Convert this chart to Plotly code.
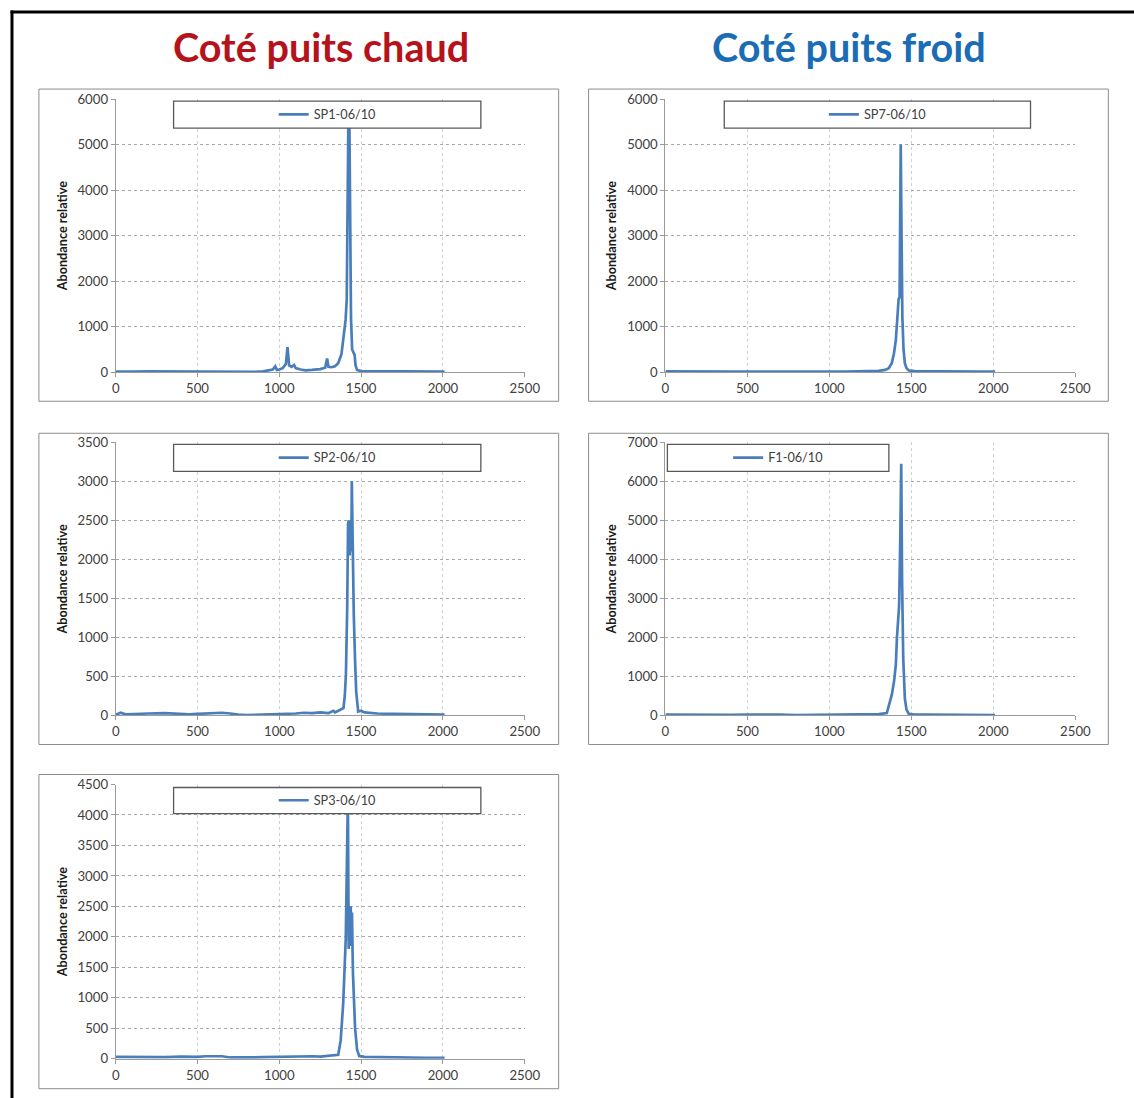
import plotly.graph_objects as go

# ---------------- data ----------------
sp1_x = [0, 50, 100, 200, 300, 400, 500, 600, 700, 760, 800, 850, 900, 940, 960, 975, 985, 1000,
         1020, 1040, 1050, 1060, 1075, 1090, 1100, 1130, 1160, 1200, 1250, 1280, 1292, 1300, 1320,
         1340, 1360, 1380, 1395, 1405, 1412, 1418, 1422, 1428, 1432, 1438, 1445, 1452, 1460, 1466,
         1475, 1500, 1600, 1700, 1800, 1900, 2000, 2010]
sp1_y = [15, 20, 15, 18, 15, 20, 15, 18, 15, 12, 5, 10, 20, 40, 60, 130, 50, 60,
         90, 180, 550, 150, 120, 160, 90, 60, 40, 50, 70, 100, 300, 120, 110,
         130, 200, 400, 800, 1150, 1600, 3500, 5600, 5600, 3000, 1200, 500, 420, 380, 150,
         50, 25, 20, 20, 18, 15, 15, 15]

sp7_x = [0, 100, 200, 300, 400, 500, 600, 700, 760, 800, 900, 1000, 1100, 1200, 1300, 1340, 1362,
         1380, 1393, 1405, 1415, 1422, 1428, 1432, 1435, 1440, 1445, 1452, 1460, 1470, 1484, 1520,
         1600, 1700, 1800, 1900, 2000, 2010]
sp7_y = [20, 15, 18, 15, 12, 15, 12, 15, 10, 5, 10, 12, 15, 20, 30, 50, 90,
         200, 400, 700, 1200, 1600, 1650, 3500, 5000, 3000, 1200, 500, 200, 90, 40, 25,
         20, 18, 15, 15, 15, 12]

sp2_x = [0, 30, 60, 100, 200, 300, 400, 450, 500, 550, 600, 650, 700, 750, 800, 900, 1000, 1100,
         1150, 1200, 1250, 1300, 1330, 1340, 1370, 1392, 1400, 1407, 1415, 1420, 1425, 1430, 1435,
         1440, 1443, 1448, 1455, 1463, 1470, 1482, 1500, 1520, 1600, 1700, 1800, 1900, 2000, 2010]
sp2_y = [10, 35, 15, 20, 25, 30, 20, 15, 20, 25, 30, 35, 25, 10, 5, 10, 15, 25,
         35, 30, 40, 30, 60, 40, 70, 95, 250, 525, 1400, 2450, 2500, 2050, 2500,
         2100, 3000, 2200, 1300, 700, 300, 50, 60, 40, 25, 20, 15, 15, 12, 10]

f1_x = [0, 100, 200, 300, 400, 500, 600, 700, 800, 900, 1000, 1100, 1200, 1300, 1350, 1381, 1395,
        1405, 1412, 1418, 1425, 1432, 1438, 1443, 1450, 1460, 1470, 1484, 1520, 1600, 1700, 1800,
        1900, 2000, 2010]
f1_y = [20, 15, 20, 15, 15, 20, 25, 20, 10, 15, 15, 20, 25, 35, 60, 540, 900,
        1300, 2000, 2400, 2800, 4500, 6450, 3500, 1500, 440, 150, 40, 25, 20, 18, 15,
        15, 15, 12]

sp3_x = [0, 100, 200, 300, 400, 500, 550, 600, 650, 700, 750, 800, 900, 1000, 1100, 1150, 1200,
         1250, 1300, 1340, 1360, 1375, 1390, 1406, 1414, 1419, 1424, 1428, 1432, 1436, 1440, 1444,
         1450, 1456, 1463, 1475, 1488, 1520, 1600, 1700, 1800, 1900, 2000, 2010]
sp3_y = [30, 25, 30, 25, 35, 30, 40, 45, 40, 20, 15, 20, 25, 30, 35, 45, 40,
         35, 45, 50, 65, 300, 890, 1970, 3200, 4300, 1800, 2500, 1850, 2500, 1850, 2400,
         1400, 800, 500, 150, 45, 30, 25, 20, 18, 15, 15, 12]

series_names = ["SP1-06/10", "SP7-06/10", "SP2-06/10", "F1-06/10", "SP3-06/10"]
series_x = [sp1_x, sp7_x, sp2_x, f1_x, sp3_x]
series_y = [sp1_y, sp7_y, sp2_y, f1_y, sp3_y]
y_max = [6000, 6000, 3500, 7000, 4500]
y_step = [1000, 1000, 500, 1000, 500]
x_ticks = [0, 500, 1000, 1500, 2000, 2500]
col_titles = ["Coté puits chaud", "Coté puits froid"]
y_title = "Abondance relative"

# ---------------- layout geometry (pixels) ----------------
W, H = 1151, 1115
S = 0.985
OX, OY = 3, 7
FONT = "Lato"
LINE_COLOR = "#4A7EBB"

def fx(p):
    return ((p - OX) / S) / W

def fy(p):
    return 1 - ((p - OY) / S) / H

def fs(v):
    return v / S

# plot area: (left, right, top, bottom) in px ; outer box ; legend box
panels = [
    dict(plot=(115, 525, 98, 371), box=(38, 559, 88, 400), leg=(173, 481, 100, 127)),
    dict(plot=(666, 1077, 98, 371), box=(589, 1110, 88, 400), leg=(725, 1032, 100, 127)),
    dict(plot=(115, 525, 441, 714), box=(38, 559, 432, 743), leg=(173, 481, 443, 470)),
    dict(plot=(666, 1077, 441, 714), box=(589, 1110, 432, 743), leg=(668, 890, 443, 470)),
    dict(plot=(115, 525, 783, 1057), box=(38, 559, 773, 1087), leg=(173, 481, 786, 812)),
]

fig = go.Figure()
shapes = []
layout = dict(
    width=W, height=H,
    margin=dict(l=0, r=0, t=0, b=0),
    paper_bgcolor="white", plot_bgcolor="white",
    font=dict(family=FONT, color="#404040"),
    showlegend=True,
)

for i, p in enumerate(panels):
    n = "" if i == 0 else str(i + 1)
    legname = "legend" + n
    fig.add_trace(go.Scatter(
        x=series_x[i], y=series_y[i], mode="lines", name=series_names[i],
        line=dict(color=LINE_COLOR, width=2.7),
        xaxis="x" + n, yaxis="y" + n, legend=legname,
    ))
    l, r, t, b = p["plot"]
    layout["xaxis" + n] = dict(
        domain=[fx(l), fx(r)], anchor="y" + n, range=[0, 2500],
        tickvals=x_ticks, ticktext=[str(v) for v in x_ticks],
        showgrid=True, gridcolor="#D0D0D0", griddash="dot", gridwidth=1,
        showline=True, linecolor="#9A9A9A", linewidth=1,
        ticks="outside", ticklen=4, tickcolor="#9A9A9A",
        tickfont=dict(family=FONT, size=fs(13), color="#404040"),
        zeroline=False, fixedrange=True,
    )
    layout["yaxis" + n] = dict(
        domain=[fy(b), fy(t)], anchor="x" + n, range=[0, y_max[i]],
        dtick=y_step[i], tick0=0,
        showgrid=True, gridcolor="#A8A8A8", griddash="dot", gridwidth=1,
        showline=True, linecolor="#9A9A9A", linewidth=1,
        ticks="outside", ticklen=4, tickcolor="#9A9A9A",
        tickfont=dict(family=FONT, size=fs(13), color="#404040"),
        zeroline=False, fixedrange=True,
        title=dict(text=y_title, standoff=7,
                   font=dict(family=FONT, size=fs(12.5), color="#1a1a1a", weight="bold")),
    )
    bl, br, bt, bb = p["box"]
    shapes.append(dict(type="rect", xref="paper", yref="paper",
                       x0=fx(bl), x1=fx(br), y0=fy(bb), y1=fy(bt),
                       line=dict(color="#8C8C8C", width=1), layer="below"))
    ll, lr, lt, lb = p["leg"]
    shapes.append(dict(type="rect", xref="paper", yref="paper",
                       x0=fx(ll), x1=fx(lr), y0=fy(lb), y1=fy(lt),
                       line=dict(color="#595959", width=1.3),
                       fillcolor="white", layer="above"))
    layout[legname] = dict(
        x=fx((ll + lr) / 2), y=fy((lt + lb) / 2), xanchor="center", yanchor="middle",
        xref="paper", yref="paper",
        bgcolor="rgba(0,0,0,0)", borderwidth=0,
        font=dict(family=FONT, size=fs(12.5), color="#404040"),
        itemwidth=30, tracegroupgap=0,
    )

# outer black frame: only the left and top edges are visible (kept inside the canvas)
shapes.append(dict(type="line", xref="paper", yref="paper",
                   x0=fx(11), x1=fx(11), y0=0, y1=fy(9.5),
                   line=dict(color="black", width=3), layer="above"))
shapes.append(dict(type="line", xref="paper", yref="paper",
                   x0=fx(9.5), x1=1, y0=fy(11), y1=fy(11),
                   line=dict(color="black", width=3), layer="above"))

layout["shapes"] = shapes
layout["annotations"] = [
    dict(text=col_titles[0], x=fx(321), y=fy(45), xref="paper", yref="paper",
         xanchor="center", yanchor="middle", showarrow=False,
         font=dict(family=FONT, size=fs(39), color="#B5121B", weight="bold")),
    dict(text=col_titles[1], x=fx(850), y=fy(45), xref="paper", yref="paper",
         xanchor="center", yanchor="middle", showarrow=False,
         font=dict(family=FONT, size=fs(39), color="#1A6CB4", weight="bold")),
]

fig.update_layout(**layout)
fig.write_html(
    "out.html",
    config={"displayModeBar": False},
    post_script="document.body.style.margin='0';document.body.style.padding='0';"
                "document.body.style.overflow='hidden';",
)
